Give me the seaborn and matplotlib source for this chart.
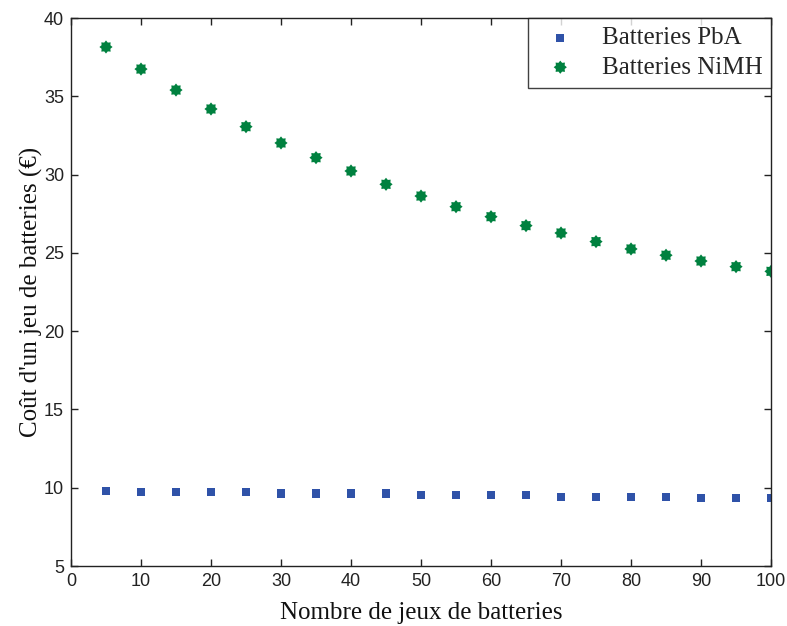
import matplotlib
matplotlib.use("Agg")
import matplotlib.pyplot as plt
import seaborn as sns
import pandas as pd
import numpy as np

# Number of battery sets
nb_jeux = [5, 10, 15, 20, 25, 30, 35, 40, 45, 50, 55, 60, 65, 70, 75, 80, 85, 90, 95, 100]

# Cost of one battery set (EUR)
cout_pba = [9.80, 9.72, 9.72, 9.72, 9.72, 9.64, 9.64, 9.64, 9.64, 9.53,
            9.53, 9.53, 9.53, 9.43, 9.43, 9.43, 9.43, 9.34, 9.34, 9.34]
cout_nimh = [38.15, 36.74, 35.40, 34.19, 33.06, 32.02, 31.08, 30.23, 29.38, 28.63,
             27.95, 27.31, 26.74, 26.27, 25.72, 25.25, 24.85, 24.48, 24.12, 23.82]

series_names = ["Batteries PbA", "Batteries NiMH"]
x_ticks = list(range(0, 101, 10))
y_ticks = list(range(5, 41, 5))

# Rounded 8-point star marker (filled asterisk look)
ang = np.linspace(0, 2 * np.pi, 17)[:-1] + np.pi / 2
rad = np.where(np.arange(16) % 2 == 0, 1.0, 0.72)
star_marker = np.column_stack([rad * np.cos(ang), rad * np.sin(ang)])

sns.set_theme(style="white")
plt.rcParams["font.family"] = ["Liberation Serif", "DejaVu Serif"]

fig = plt.figure(figsize=(7.87, 6.26), dpi=100)
ax = fig.add_axes([0.0902, 0.0958, 0.8895, 0.8754])

df_pba = pd.DataFrame({"x": nb_jeux, "y": cout_pba})
df_nimh = pd.DataFrame({"x": nb_jeux, "y": cout_nimh})

sns.scatterplot(data=df_pba, x="x", y="y", ax=ax, marker="s", s=36,
                color="#2f52a8", edgecolor="none", label=series_names[0])
sns.scatterplot(data=df_nimh, x="x", y="y", ax=ax, marker=star_marker, s=90,
                color="#00813f", edgecolor="none", label=series_names[1])

ax.set_xlim(0, 100)
ax.set_ylim(5, 40)
ax.set_xticks(x_ticks)
ax.set_yticks(y_ticks)

tick_font = {"family": ["Liberation Sans", "DejaVu Sans"], "size": 13}
ax.set_xticklabels([str(t) for t in x_ticks], fontdict=tick_font)
ax.set_yticklabels([str(t) for t in y_ticks], fontdict=tick_font)

ax.tick_params(direction="in", length=5, width=1, color="#222222",
               top=True, right=True, bottom=True, left=True, pad=5, labelcolor="#222222")
for sp in ax.spines.values():
    sp.set_color("#222222")
    sp.set_linewidth(1.0)

ax.set_xlabel("Nombre de jeux de batteries", fontsize=18, color="#111111", labelpad=9)
ax.set_ylabel("Coût d'un jeu de batteries (€)", fontsize=18, color="#111111", labelpad=1)

leg = ax.legend(loc="upper right", fontsize=18, frameon=True, fancybox=False,
                borderaxespad=0, handletextpad=0.7, handlelength=1.9, borderpad=0.35,
                labelspacing=0.28, markerscale=1.0)
leg.get_frame().set_edgecolor("#111111")
leg.get_frame().set_linewidth(1.0)

fig.savefig("out.png", dpi=100)
